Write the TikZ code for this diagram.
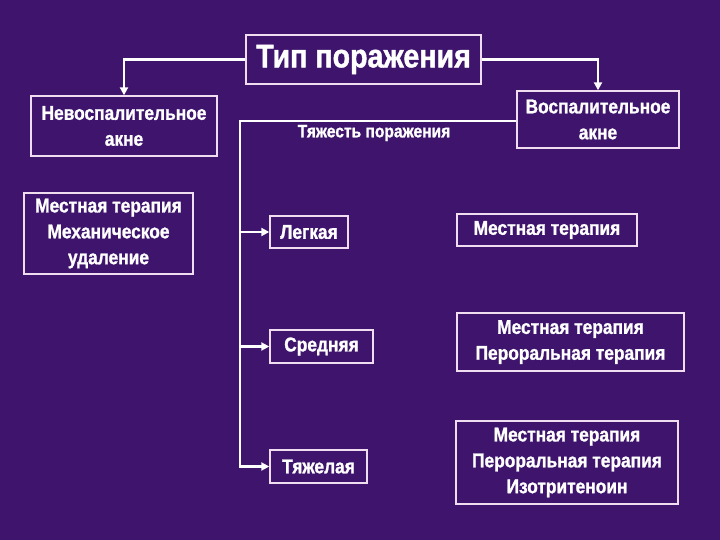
\documentclass[tikz,border=0pt]{standalone}
\usepackage{fontspec}
\newfontfamily\lbl{Liberation Sans}[FakeStretch=0.87,FakeBold=1.2]
\usetikzlibrary{arrows.meta,positioning,calc}
\definecolor{hatter}{RGB}{62,20,108}
\definecolor{keret}{RGB}{240,222,240}
\tikzset{
  doboz/.style={draw=keret,line width=1.4bp,text=white,align=center,inner sep=0pt,
    font=\lbl\bfseries\fontsize{20}{26}\selectfont},
  vonal/.style={draw=white,line width=2.8bp},
  nyil/.style={vonal,-{Triangle[length=8bp,width=8bp]}},
}

\begin{document}
\begin{tikzpicture}[x=1bp,y=-1bp]
  \fill[hatter] (0,0) rectangle (720,540);
  \useasboundingbox (0,0) rectangle (720,540);
  \node[doboz,minimum width=235bp,minimum height=49bp,font=\lbl\bfseries\fontsize{33}{36}\selectfont]
    (tip) at (363.5,59.5) {Тип поражения};
  \node[doboz,minimum width=186bp,minimum height=60bp] (nemgy) at (124,126) {Невоспалительное\\акне};
  \node[doboz,minimum width=162bp,minimum height=57bp] (gyull) at (598,119.5) {Воспалительное\\акне};
  \node[text=white,font=\lbl\bfseries\fontsize{18}{20}\selectfont] (sulyos) at (374,133) {Тяжесть поражения};
  \node[doboz,minimum width=169bp,minimum height=81bp] (helyiB) at (108.5,233.5)
    {Местная терапия\\Механическое\\удаление};
  \node[doboz,minimum width=78bp,minimum height=32bp] (enyhe) at (309,232) {Легкая};
  \node[doboz,minimum width=103bp,minimum height=33bp] (kozep) at (321.5,346.5) {Средняя};
  \node[doboz,minimum width=97bp,minimum height=33bp] (nehez) at (318.5,466.5) {Тяжелая};
  \node[doboz,minimum width=180bp,minimum height=32bp] (ter1) at (547,230) {Местная терапия};
  \node[doboz,minimum width=227bp,minimum height=58bp] (ter2) at (570.5,342)
    {Местная терапия\\Пероральная терапия};
  \node[doboz,minimum width=222bp,minimum height=83bp] (ter3) at (567,462.5)
    {Местная терапия\\Пероральная терапия\\Изотритеноин};
  \coordinate (torzs) at (240,121);
  \draw[nyil] (tip.west) -| (nemgy.north);
  \draw[nyil] (tip.east) -| (gyull.north);
  \draw[nyil] (gyull.west |- torzs) -- (torzs) |- (nehez.west);
  \draw[nyil] (torzs |- enyhe.west) -- (enyhe.west);
  \draw[nyil] (torzs |- kozep.west) -- (kozep.west);
\end{tikzpicture}
\end{document}
